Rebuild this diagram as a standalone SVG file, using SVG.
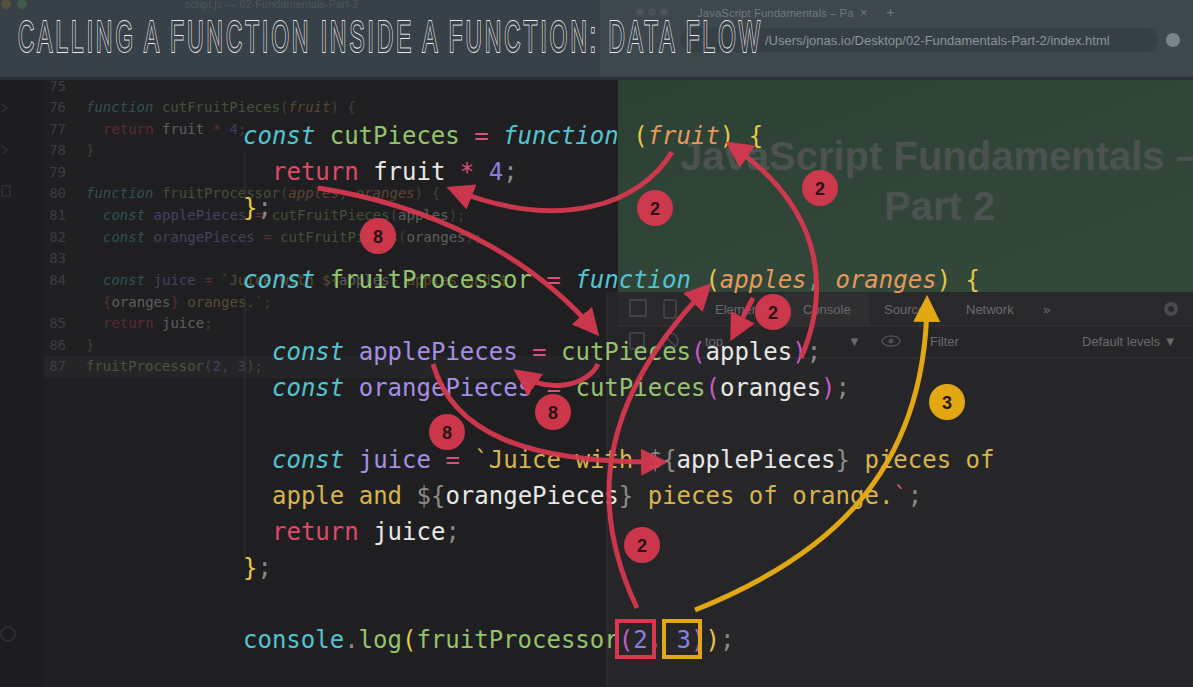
<svg xmlns="http://www.w3.org/2000/svg" width="1193" height="687" viewBox="0 0 1193 687">
<defs>
<linearGradient id="grn" x1="0" y1="0" x2="1" y2="1">
<stop offset="0" stop-color="#2c4134"/>
<stop offset="1" stop-color="#35493b"/>
</linearGradient>
<marker id="ar" viewBox="0 0 10 10" refX="7" refY="5" markerWidth="27" markerHeight="27" markerUnits="userSpaceOnUse" orient="auto"><path d="M0,0 L10,5 L0,10 z" fill="#d8384f"/></marker>
<marker id="ay" viewBox="0 0 10 10" refX="7" refY="5" markerWidth="27" markerHeight="27" markerUnits="userSpaceOnUse" orient="auto"><path d="M0,0 L10,5 L0,10 z" fill="#e1a814"/></marker>
<style>
.code{font-family:"DejaVu Sans Mono","Liberation Mono",monospace;font-size:24px;white-space:pre}
.bg{font-family:"DejaVu Sans Mono","Liberation Mono",monospace;font-size:14px;white-space:pre;opacity:0.3}
.ln{font-family:"DejaVu Sans Mono","Liberation Mono",monospace;font-size:14px;fill:#5c5c60;opacity:0.5;text-anchor:end}
.ui{font-family:"Liberation Sans",Arial,sans-serif;font-size:13px;fill:#6a6a6e}
.kw{fill:#53c4d2;font-style:italic}
.cy{fill:#53c4d2}
.gr{fill:#94c46c}
.pk{fill:#d9517c}
.rt{fill:#e0496a}
.yl{fill:#e4c84a}
.st{fill:#d8b44e}
.or{fill:#e59a5c;font-style:italic}
.pu{fill:#a58fe6}
.nu{fill:#8b7fe0}
.wh{fill:#e8e8e8}
.gy{fill:#8a8a8a}
.mg{fill:#c45bc7}
.arr{fill:none;stroke:#d8384f;stroke-width:5;opacity:0.93}
.arry{fill:none;stroke:#e1a814;stroke-width:5}
.lbl circle{fill:#d8384f;opacity:0.93}
.lbl text{font-family:"Liberation Sans",Arial,sans-serif;font-size:18px;font-weight:bold;fill:#2a1414;text-anchor:middle}
.title{font-family:"Liberation Sans",Arial,sans-serif;font-size:45px;fill:#3a4248;stroke:#ececec;stroke-width:1.6;paint-order:stroke;vector-effect:non-scaling-stroke}
</style>
</defs>

<!-- backgrounds -->
<rect x="0" y="0" width="1193" height="687" fill="#1f1f21"/>
<rect x="0" y="80" width="42" height="607" fill="#1d1d1f"/>
<rect x="607" y="292" width="586" height="395" fill="#262628"/>
<line x1="607" y1="292" x2="607" y2="687" stroke="#303032" stroke-width="1"/>
<rect x="44" y="356" width="556" height="22" fill="#252527"/>

<!-- faded left gutter icons -->
<g fill="none" stroke="#3a3a3e" stroke-width="1.5" opacity="0.7">
<path d="M2,104 l5,4 -5,4"/>
<path d="M2,146 l5,4 -5,4"/>
<rect x="2" y="186" width="8" height="10"/>
<circle cx="8" cy="634" r="7"/>
</g>

<!-- faded background code -->
<g id="bg-code">
<text class="ln" x="66" y="69">74</text>
<text class="ln" x="66" y="91">75</text>
<text class="ln" x="66" y="112">76</text>
<text class="ln" x="66" y="134">77</text>
<text class="ln" x="66" y="155">78</text>
<text class="ln" x="66" y="177">79</text>
<text class="ln" x="66" y="198">80</text>
<text class="ln" x="66" y="220">81</text>
<text class="ln" x="66" y="242">82</text>
<text class="ln" x="66" y="263">83</text>
<text class="ln" x="66" y="285">84</text>
<text class="ln" x="66" y="328">85</text>
<text class="ln" x="66" y="350">86</text>
<text class="ln" x="66" y="371">87</text>
<text class="bg" x="86" y="69"><tspan class="gy">*/</tspan></text>
<text class="bg" x="86" y="112"><tspan class="kw">function</tspan> <tspan class="gr">cutFruitPieces</tspan><tspan class="gy">(</tspan><tspan class="or">fruit</tspan><tspan class="gy">) {</tspan></text>
<text class="bg" x="103" y="134"><tspan class="rt">return</tspan> <tspan class="wh">fruit</tspan> <tspan class="pk">*</tspan> <tspan class="nu">4</tspan><tspan class="gy">;</tspan></text>
<text class="bg" x="86" y="155"><tspan class="gy">}</tspan></text>
<text class="bg" x="86" y="198"><tspan class="kw">function</tspan> <tspan class="gr">fruitProcessor</tspan><tspan class="gy">(</tspan><tspan class="or">apples</tspan><tspan class="gy">, </tspan><tspan class="or">oranges</tspan><tspan class="gy">) {</tspan></text>
<text class="bg" x="103" y="220"><tspan class="kw">const</tspan> <tspan class="pu">applePieces</tspan> <tspan class="pk">=</tspan> <tspan class="gr">cutFruitPieces</tspan><tspan class="gy">(</tspan><tspan class="wh">apples</tspan><tspan class="gy">);</tspan></text>
<text class="bg" x="103" y="242"><tspan class="kw">const</tspan> <tspan class="pu">orangePieces</tspan> <tspan class="pk">=</tspan> <tspan class="gr">cutFruitPieces</tspan><tspan class="gy">(</tspan><tspan class="wh">oranges</tspan><tspan class="gy">);</tspan></text>
<text class="bg" x="103" y="285"><tspan class="kw">const</tspan> <tspan class="pu">juice</tspan> <tspan class="pk">=</tspan> <tspan class="st">`Juice with ${</tspan><tspan class="wh">apples</tspan><tspan class="st">} apples and $</tspan></text>
<text class="bg" x="103" y="307"><tspan class="rt">{</tspan><tspan class="wh">oranges</tspan><tspan class="rt">}</tspan><tspan class="st"> oranges.</tspan><tspan class="gy">`;</tspan></text>
<text class="bg" x="103" y="328"><tspan class="rt">return</tspan> <tspan class="wh">juice</tspan><tspan class="gy">;</tspan></text>
<text class="bg" x="86" y="350"><tspan class="gy">}</tspan></text>
<text class="bg" x="86" y="371"><tspan class="gr">fruitProcessor</tspan><tspan class="gy">(</tspan><tspan class="nu">2</tspan><tspan class="gy">, </tspan><tspan class="nu">3</tspan><tspan class="gy">);</tspan></text>
</g>

<!-- browser preview (green) -->
<g id="browser-page">
<rect x="618" y="80" width="575" height="212" fill="url(#grn)"/>
<text x="680" y="170" font-family="Liberation Sans,Arial,sans-serif" font-size="40" font-weight="bold" fill="#4c5250">JavaScript Fundamentals –</text>
<text x="884" y="220" font-family="Liberation Sans,Arial,sans-serif" font-size="40" font-weight="bold" fill="#4c5250">Part 2</text>
</g>

<!-- devtools -->
<g id="devtools">
<rect x="618" y="292" width="575" height="34" fill="#29292b"/>
<rect x="783" y="293" width="86" height="33" fill="#2f2f31"/>
<line x1="618" y1="326" x2="1193" y2="326" stroke="#343436"/>
<line x1="618" y1="358" x2="1193" y2="358" stroke="#343436"/>
<g fill="none" stroke="#4a4a4e" stroke-width="1.5">
<rect x="630" y="300" width="16" height="16"/>
<rect x="664" y="300" width="12" height="18" rx="2"/>
<rect x="630" y="333" width="14" height="16"/>
<circle cx="670" cy="341" r="8"/>
<line x1="664" y1="335" x2="676" y2="347"/>
</g>
<text class="ui" x="715" y="314">Elements</text>
<text class="ui" x="803" y="314">Console</text>
<text class="ui" x="884" y="314">Sources</text>
<text class="ui" x="966" y="314">Network</text>
<text class="ui" x="1043" y="314" font-size="16">»</text>
<circle cx="1171" cy="309" r="7" fill="#4a4a4e"/>
<circle cx="1171" cy="309" r="3" fill="#29292b"/>
<text class="ui" x="705" y="346" fill="#4e4e52">top</text>
<text class="ui" x="848" y="346" fill="#4e4e52" font-size="10">▼</text>
<ellipse cx="891" cy="341" rx="9" ry="5" fill="none" stroke="#4e4e52" stroke-width="1.5"/>
<circle cx="891" cy="341" r="2.5" fill="#4e4e52"/>
<text class="ui" x="930" y="346" fill="#4a4a4e">Filter</text>
<text class="ui" x="1082" y="346" fill="#4e4e52">Default levels ▼</text>
</g>

<!-- title bar -->
<g id="title-bar">
<rect x="0" y="0" width="1193" height="78" fill="#394248" opacity="0.97"/>
<rect x="600" y="0" width="593" height="78" fill="#3d474c"/>
<rect x="0" y="77" width="1193" height="3" fill="#2a3034"/>
<circle cx="6" cy="4" r="5" fill="#6a5a3a" opacity="0.6"/>
<circle cx="22" cy="4" r="5" fill="#4a6a4a" opacity="0.6"/>
<text x="185" y="8" font-family="Liberation Sans,Arial,sans-serif" font-size="11" fill="#4c555b">script.js — 02-Fundamentals-Part-2</text>
<circle cx="640" cy="12" r="4" fill="#4a5358"/>
<circle cx="652" cy="12" r="4" fill="#4a5358"/>
<circle cx="664" cy="12" r="4" fill="#4a5358"/>
<text x="697" y="17" font-family="Liberation Sans,Arial,sans-serif" font-size="11.5" fill="#6e787d">JavaScript Fundamentals – Pa</text>
<text x="860" y="17" font-family="Liberation Sans,Arial,sans-serif" font-size="13" fill="#6e787d">×</text>
<text x="886" y="17" font-family="Liberation Sans,Arial,sans-serif" font-size="15" fill="#6e787d">+</text>
<rect x="680" y="28" width="478" height="24" rx="12" fill="#363f44"/>
<text x="765" y="45" font-family="Liberation Sans,Arial,sans-serif" font-size="13" fill="#8a959a">/Users/jonas.io/Desktop/02-Fundamentals-Part-2/index.html</text>
<circle cx="1173" cy="40" r="7" fill="#7a858a"/>
<g transform="translate(18,52) scale(0.5,1)">
<text class="title" x="0" y="0" textLength="1484" lengthAdjust="spacing">CALLING A FUNCTION INSIDE A FUNCTION: DATA FLOW</text>
</g>
</g>

<!-- indent guides -->
<g stroke="#333336" stroke-width="1">
<line x1="245" y1="152" x2="245" y2="200"/>
<line x1="245" y1="296" x2="245" y2="560"/>
</g>

<!-- main code -->
<g id="code">
<text class="code" x="243" y="144"><tspan class="kw">const</tspan> <tspan class="gr">cutPieces</tspan> <tspan class="pk">=</tspan> <tspan class="kw">function</tspan> <tspan class="yl">(</tspan><tspan class="or">fruit</tspan><tspan class="yl">)</tspan> <tspan class="yl">{</tspan></text>
<text class="code" x="272" y="180"><tspan class="rt">return</tspan> <tspan class="wh">fruit</tspan> <tspan class="pk">*</tspan> <tspan class="nu">4</tspan><tspan class="gy">;</tspan></text>
<text class="code" x="243" y="216"><tspan class="yl">}</tspan><tspan class="gy">;</tspan></text>
<text class="code" x="243" y="288"><tspan class="kw">const</tspan> <tspan class="gr">fruitProcessor</tspan> <tspan class="pk">=</tspan> <tspan class="kw">function</tspan> <tspan class="yl">(</tspan><tspan class="or">apples</tspan><tspan class="gy">,</tspan> <tspan class="or">oranges</tspan><tspan class="yl">)</tspan> <tspan class="yl">{</tspan></text>
<text class="code" x="272" y="360"><tspan class="kw">const</tspan> <tspan class="pu">applePieces</tspan> <tspan class="pk">=</tspan> <tspan class="gr">cutPieces</tspan><tspan class="mg">(</tspan><tspan class="wh">apples</tspan><tspan class="mg">)</tspan><tspan class="gy">;</tspan></text>
<text class="code" x="272" y="396"><tspan class="kw">const</tspan> <tspan class="pu">orangePieces</tspan> <tspan class="pk">=</tspan> <tspan class="gr">cutPieces</tspan><tspan class="mg">(</tspan><tspan class="wh">oranges</tspan><tspan class="mg">)</tspan><tspan class="gy">;</tspan></text>
<text class="code" x="272" y="468"><tspan class="kw">const</tspan> <tspan class="pu">juice</tspan> <tspan class="pk">=</tspan> <tspan class="st">`Juice with </tspan><tspan class="gy">${</tspan><tspan class="wh">applePieces</tspan><tspan class="gy">}</tspan><tspan class="st"> pieces of</tspan></text>
<text class="code" x="272" y="504"><tspan class="st">apple and </tspan><tspan class="gy">${</tspan><tspan class="wh">orangePieces</tspan><tspan class="gy">}</tspan><tspan class="st"> pieces of orange.</tspan><tspan fill="#d9517c">`</tspan><tspan class="gy">;</tspan></text>
<text class="code" x="272" y="540"><tspan class="rt">return</tspan> <tspan class="wh">juice</tspan><tspan class="gy">;</tspan></text>
<text class="code" x="243" y="576"><tspan class="yl">}</tspan><tspan class="gy">;</tspan></text>
<text class="code" x="243" y="648"><tspan class="cy">console</tspan><tspan class="gy">.</tspan><tspan class="gr">log</tspan><tspan class="yl">(</tspan><tspan class="gr">fruitProcessor</tspan><tspan class="mg">(</tspan><tspan class="nu">2</tspan><tspan class="gy">,</tspan> <tspan class="nu">3</tspan><tspan class="mg">)</tspan><tspan class="yl">)</tspan><tspan class="gy">;</tspan></text>
</g>

<!-- argument boxes -->
<g id="arg-boxes" fill="none" stroke-width="4">
<rect id="box-2" x="617" y="621" width="37" height="36" stroke="#d8384f"/>
<rect id="box-3" x="664" y="621" width="36" height="36" stroke="#e1a814"/>
</g>

<!-- connectors -->
<g id="connectors">
<path class="arr" d="M672,152 C640,205 560,232 454,190" marker-end="url(#ar)"/>
<path class="arr" d="M801,358 C826,300 832,215 732,146" marker-end="url(#ar)"/>
<path class="arr" d="M318,188 C430,205 530,255 594,330" marker-end="url(#ar)"/>
<path class="arr" d="M753,298 L734,334" marker-end="url(#ar)"/>
<path class="arr" d="M598,364 C588,386 548,394 520,374" marker-end="url(#ar)"/>
<path class="arr" d="M433,364 C452,430 520,463 660,462" marker-end="url(#ar)"/>
<path class="arr" d="M637,608 C600,530 580,420 706,289" marker-end="url(#ar)"/>
<path class="arry" d="M695,610 C820,560 925,480 927,303" marker-end="url(#ay)"/>
</g>

<!-- step labels -->
<g id="label-1" class="lbl"><circle cx="655" cy="208" r="18"/><text x="655" y="215">2</text></g>
<g id="label-2" class="lbl"><circle cx="820" cy="188" r="18"/><text x="820" y="195">2</text></g>
<g id="label-3" class="lbl"><circle cx="378" cy="236" r="18"/><text x="378" y="243">8</text></g>
<g id="label-4" class="lbl"><circle cx="773" cy="312" r="18"/><text x="773" y="319">2</text></g>
<g id="label-5" class="lbl"><circle cx="553" cy="412" r="18"/><text x="553" y="419">8</text></g>
<g id="label-6" class="lbl"><circle cx="447" cy="432" r="18"/><text x="447" y="439">8</text></g>
<g id="label-7" class="lbl"><circle cx="642" cy="545" r="18"/><text x="642" y="552">2</text></g>
<g id="label-8" class="lbl"><circle cx="947" cy="402" r="18" style="fill:#e1a814;opacity:1"/><text x="947" y="409">3</text></g>
</svg>
